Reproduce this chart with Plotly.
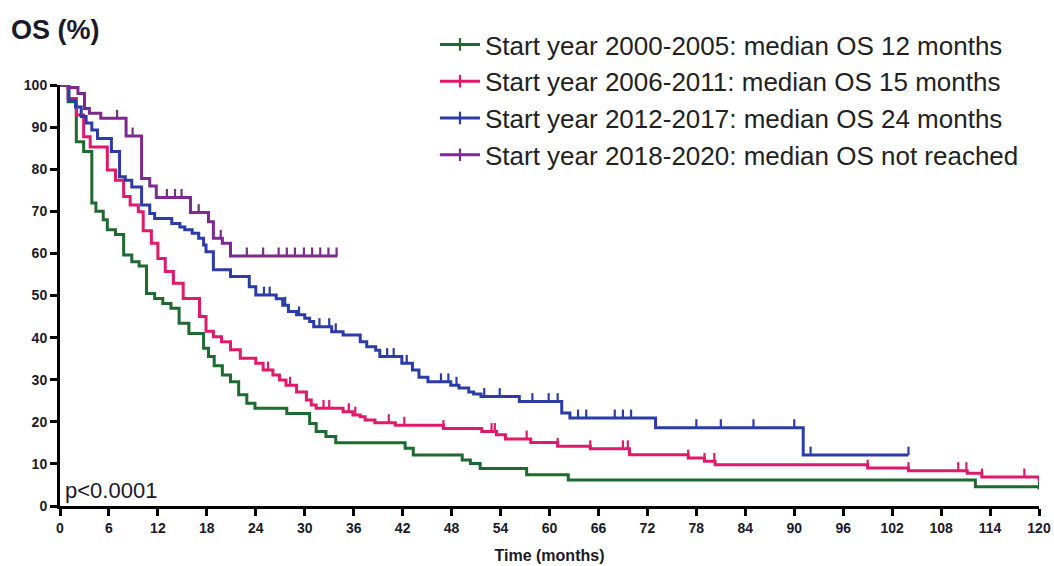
import numpy as np
import plotly.graph_objects as go

# Kaplan-Meier step points: time (months) and overall survival (%) after each event
t_2000 = [0, 1.0, 2.0, 2.9, 3.9, 4.4, 5.3, 5.8, 6.8, 7.8, 8.8, 9.7, 10.6, 11.6, 12.6, 13.6,
          14.6, 15.8, 17.6, 18.2, 18.9, 19.9, 20.9, 21.9, 22.9, 23.9, 27.8, 30.6, 31.4, 32.6,
          33.8, 42.3, 43.3, 49.3, 50.3, 51.5, 57.2, 62.3, 112.2, 120]
s_2000 = [100, 96.0, 86.5, 84.2, 72.0, 70.0, 68.0, 65.6, 64.5, 59.6, 58.0, 57.0, 50.5, 49.3,
          48.1, 47.0, 43.4, 41.0, 37.5, 35.5, 33.3, 31.1, 29.5, 26.4, 24.4, 23.2, 22.0, 19.6,
          17.7, 16.5, 15.0, 13.7, 12.1, 10.9, 10.1, 8.9, 7.4, 6.2, 4.6, 4.0]
c_2000 = [120]

t_2006 = [0, 1.0, 2.0, 2.9, 3.7, 5.8, 6.8, 7.8, 8.6, 9.6, 10.2, 11.2, 12.0, 12.9, 13.9, 15.1,
          17.1, 17.9, 18.8, 19.8, 20.9, 22.1, 24.0, 24.9, 26.1, 26.9, 27.7, 29.0, 30.2, 30.8,
          31.4, 34.7, 35.9, 36.8, 37.4, 38.6, 41.1, 47.0, 51.7, 53.5, 54.6, 57.7, 61.0, 65.0,
          69.8, 77.0, 79.0, 80.3, 99.0, 104.0, 111.2, 113.0, 120]
s_2006 = [100, 96.8, 92.9, 87.7, 85.3, 79.8, 77.4, 73.5, 71.5, 69.9, 65.4, 62.4, 58.8, 55.7,
          52.9, 49.3, 45.0, 41.5, 40.2, 39.0, 37.1, 35.1, 33.9, 32.3, 31.1, 29.9, 28.7, 27.1,
          25.2, 24.0, 23.2, 22.4, 21.6, 21.2, 20.4, 19.8, 19.2, 18.4, 17.7, 16.9, 15.9, 15.1,
          14.2, 13.6, 12.2, 11.4, 10.6, 9.8, 9.0, 8.4, 7.8, 6.9, 6.0]
c_2006 = [25.5, 28.2, 32.3, 33.0, 35.4, 36.2, 40.3, 42.2, 47.0, 52.9, 53.3, 57.2, 61.0, 65.0,
          69.0, 69.6, 77.0, 79.0, 80.2, 99.0, 104.0, 110.1, 111.1, 113.0, 118.2]

t_2012 = [0, 1.1, 1.9, 2.6, 3.2, 3.9, 4.6, 6.3, 7.3, 8.0, 8.8, 10.0, 11.0, 11.6, 13.7, 14.7,
          15.3, 16.2, 17.0, 17.6, 17.9, 18.8, 20.9, 23.2, 24.0, 26.5, 27.3, 28.0, 29.0, 30.0,
          30.6, 31.1, 33.3, 34.7, 36.8, 37.6, 38.7, 39.2, 41.9, 43.2, 44.0, 45.1, 47.9, 48.9,
          50.1, 50.7, 51.6, 56.3, 61.5, 62.5, 73.0, 91.1, 104.0]
s_2012 = [100, 96.4, 94.8, 92.5, 91.0, 89.3, 87.3, 84.2, 78.2, 77.4, 75.8, 71.5, 69.5, 68.3,
          67.1, 66.3, 65.6, 64.8, 63.6, 62.0, 60.4, 56.1, 54.5, 52.1, 50.1, 49.2, 47.7, 46.2,
          45.4, 44.6, 43.8, 42.6, 41.4, 40.6, 39.0, 37.8, 37.0, 35.5, 33.9, 32.3, 30.6, 29.5,
          28.7, 28.0, 27.1, 26.6, 26.0, 24.8, 22.1, 20.9, 18.6, 12.1, 12.1]
c_2012 = [25.0, 25.7, 27.6, 29.3, 31.8, 33.0, 33.8, 40.1, 40.9, 42.5, 46.7, 47.6, 48.6, 52.0,
          53.9, 57.9, 59.9, 61.0, 63.5, 64.5, 68.0, 69.0, 70.0, 78.0, 81.0, 85.0, 90.0, 92.0,
          104.0]

t_2018 = [0, 1.0, 2.2, 3.0, 3.6, 5.0, 8.1, 10.0, 11.0, 11.8, 16.0, 18.2, 18.8, 19.9, 20.9, 34.0]
s_2018 = [100, 99.4, 98.0, 94.4, 93.3, 92.1, 87.9, 77.8, 76.0, 73.3, 69.7, 67.5, 63.6, 62.4,
          59.4, 59.4]
c_2018 = [7.0, 8.9, 13.1, 14.1, 14.9, 17.0, 19.7, 22.9, 24.9, 26.8, 27.8, 28.8, 29.9, 30.9,
          31.9, 32.9, 33.9]

labels = [
    "Start year 2000-2005: median OS 12 months",
    "Start year 2006-2011: median OS 15 months",
    "Start year 2012-2017: median OS 24 months",
    "Start year 2018-2020: median OS not reached",
]
colors = ["#1d6b2e", "#e0196b", "#2b3ca6", "#7c2a8c"]

x_ticks = list(range(0, 121, 6))
y_ticks = list(range(0, 101, 10))

series = [
    (t_2000, s_2000, c_2000),
    (t_2006, s_2006, c_2006),
    (t_2012, s_2012, c_2012),
    (t_2018, s_2018, c_2018),
]

FONT = "Liberation Sans, Arial, sans-serif"
TICK_UP = 2.0  # censor tick height, in % units

fig = go.Figure()
for (t, s, c), name, col in zip(series, labels, colors):
    t_arr = np.asarray(t, dtype=float)
    s_arr = np.asarray(s, dtype=float)
    fig.add_trace(go.Scatter(
        x=t_arr, y=s_arr, mode="lines", line=dict(color=col, width=3, shape="hv"),
        showlegend=False, cliponaxis=False, hoverinfo="skip",
    ))
    # censored observations: value of the step curve at each censor time
    idx = np.searchsorted(t_arr, np.asarray(c, dtype=float), side="right") - 1
    cy = s_arr[np.clip(idx, 0, len(s_arr) - 1)]
    fig.add_trace(go.Scatter(
        x=c, y=cy, mode="markers", marker=dict(size=1, color=col, opacity=0),
        error_y=dict(type="data", symmetric=False, array=[TICK_UP] * len(c),
                     arrayminus=[0] * len(c), width=0, thickness=2.2, color=col),
        showlegend=False, cliponaxis=False, hoverinfo="skip",
    ))
    # legend entry: line with a censor tick
    fig.add_trace(go.Scatter(
        x=[None], y=[None], mode="lines+markers", name=name,
        line=dict(color=col, width=3),
        marker=dict(symbol="line-ns", size=9, line=dict(color=col, width=2.2)),
    ))

axis_common = dict(
    showline=True, linewidth=3, linecolor="black", mirror=False,
    ticks="outside", ticklen=7, tickwidth=3, tickcolor="black",
    showgrid=False, zeroline=False, automargin=False,
    tickfont=dict(family=FONT, size=14, color="#1a1a2a", weight="bold"),
)

fig.update_layout(
    width=1054, height=566, autosize=False,
    margin=dict(l=60, r=15, t=85, b=60, autoexpand=False),
    paper_bgcolor="white", plot_bgcolor="white",
    xaxis=dict(range=[0, 120], tickvals=x_ticks, **axis_common,
               title=dict(text="Time (months)", standoff=16,
                          font=dict(family=FONT, size=16, color="#1a1a2a", weight="bold"))),
    yaxis=dict(range=[0, 100], tickvals=y_ticks, **axis_common),
    legend=dict(x=0.383, y=1.152, xanchor="left", yanchor="top",
                font=dict(family=FONT, size=26, color="#222222"),
                bgcolor="rgba(0,0,0,0)", itemwidth=40, tracegroupgap=0),
    showlegend=True,
)

fig.add_annotation(text="OS (%)", xref="paper", yref="paper", x=-0.052, y=1.13,
                   xanchor="left", yanchor="middle", showarrow=False,
                   font=dict(family=FONT, size=27, color="#1a1a2a", weight="bold"))
fig.add_annotation(text="p<0.0001", xref="x", yref="y", x=0.4, y=3.6,
                   xanchor="left", yanchor="middle", showarrow=False,
                   font=dict(family=FONT, size=22, color="#1a1a2a"))

fig.write_html("out.html")
